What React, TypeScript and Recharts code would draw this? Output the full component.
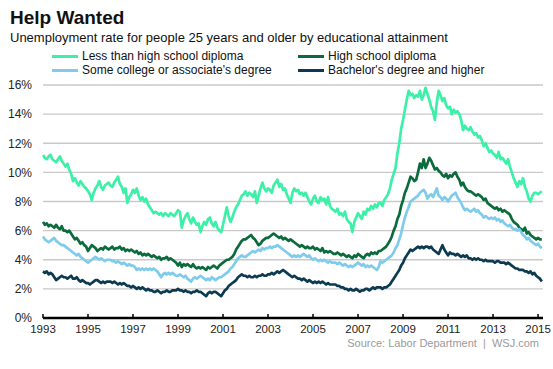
import { CartesianGrid, Line, LineChart, XAxis, YAxis } from "recharts";

// monthly unemployment rate (%), Jan 1993 – Mar 2015
const lessThanHs = [
  11.2, 11.0, 10.9, 11.1, 11.2, 10.9, 10.8, 10.7, 10.9, 11.1, 10.8, 10.6, // 1993
  10.4, 10.6, 10.2, 9.9, 9.4, 9.6, 9.3, 9.1, 9.4, 9.2, 9.0, 8.9, // 1994
  8.7, 8.5, 8.1, 8.6, 8.9, 9.1, 9.4, 9.0, 8.8, 9.1, 9.2, 9.3, // 1995
  9.1, 9.0, 9.3, 9.5, 9.7, 9.2, 9.0, 8.6, 8.9, 7.9, 8.3, 8.5, // 1996
  8.8, 8.6, 8.9, 8.4, 8.1, 8.3, 8.0, 8.2, 7.8, 7.6, 7.4, 7.2, // 1997
  7.3, 7.2, 7.1, 7.2, 7.0, 7.2, 7.1, 7.0, 7.2, 7.1, 7.0, 7.2, // 1998
  7.4, 7.3, 6.2, 6.7, 7.0, 7.2, 6.8, 6.5, 6.9, 6.6, 6.4, 6.5, // 1999
  5.9, 6.3, 6.6, 6.4, 6.8, 6.9, 6.5, 6.3, 6.6, 6.2, 6.0, 5.9, // 2000
  6.4, 7.0, 7.6, 7.0, 6.6, 6.9, 7.3, 7.6, 7.8, 8.1, 8.4, 8.5, // 2001
  8.7, 8.4, 8.6, 8.5, 8.3, 8.7, 7.9, 8.4, 8.9, 9.3, 8.9, 8.7, // 2002
  8.9, 8.8, 8.6, 9.1, 9.3, 9.5, 9.0, 9.2, 8.8, 8.9, 8.5, 8.2, // 2003
  7.9, 8.6, 8.9, 8.7, 8.8, 8.5, 8.6, 8.4, 8.6, 8.3, 8.0, 7.8, // 2004
  8.2, 8.4, 8.0, 7.9, 8.3, 8.1, 8.2, 7.8, 8.3, 7.7, 7.5, 7.4, // 2005
  7.3, 7.5, 7.1, 7.2, 7.0, 7.3, 6.8, 6.6, 6.5, 5.9, 6.6, 6.9, // 2006
  7.2, 7.0, 6.8, 7.3, 7.1, 7.5, 7.4, 7.7, 7.5, 7.8, 7.6, 7.9, // 2007
  7.9, 7.7, 8.1, 8.3, 8.5, 8.9, 9.5, 9.9, 10.3, 11.3, 12.0, 13.0, // 2008
  13.6, 14.3, 15.0, 15.6, 15.3, 15.4, 15.1, 15.3, 15.2, 15.6, 15.0, 15.3, // 2009
  15.8, 15.4, 15.0, 14.5, 14.2, 13.6, 14.8, 15.6, 15.3, 14.9, 15.1, 14.6, // 2010
  14.4, 14.5, 14.0, 14.3, 14.1, 14.2, 14.0, 13.6, 12.9, 13.2, 13.0, 12.9, // 2011
  13.1, 12.8, 12.6, 12.7, 12.4, 12.5, 12.2, 11.8, 12.0, 11.7, 11.4, 11.5, // 2012
  11.3, 11.2, 11.0, 11.4, 10.9, 11.0, 10.8, 10.6, 10.9, 10.4, 10.0, 9.6, // 2013
  9.3, 9.0, 9.4, 9.2, 9.6, 9.0, 8.7, 8.2, 8.0, 8.4, 8.6, 8.6, // 2014
  8.5, 8.6, 8.7, // 2015
];

const highSchool = [
  6.6, 6.4, 6.5, 6.3, 6.4, 6.3, 6.2, 6.4, 6.2, 6.1, 6.3, 6.0, // 1993
  6.0, 5.9, 6.0, 5.8, 5.6, 5.4, 5.5, 5.3, 5.1, 5.2, 5.0, 4.9, // 1994
  4.6, 4.8, 5.0, 4.9, 4.8, 4.6, 4.7, 4.8, 4.7, 4.9, 4.8, 4.7, // 1995
  4.8, 4.9, 4.7, 4.8, 4.8, 4.9, 4.7, 4.8, 4.6, 4.7, 4.6, 4.7, // 1996
  4.6, 4.5, 4.6, 4.4, 4.5, 4.3, 4.4, 4.3, 4.4, 4.3, 4.2, 4.3, // 1997
  4.2, 4.1, 4.2, 4.0, 4.1, 4.1, 4.2, 4.0, 4.1, 4.0, 3.9, 3.8, // 1998
  3.6, 3.8, 3.5, 3.7, 3.6, 3.7, 3.6, 3.5, 3.7, 3.5, 3.4, 3.5, // 1999
  3.4, 3.5, 3.4, 3.3, 3.5, 3.4, 3.5, 3.6, 3.5, 3.4, 3.6, 3.7, // 2000
  3.8, 3.9, 4.0, 4.0, 4.1, 4.2, 4.4, 4.7, 4.9, 5.1, 5.3, 5.4, // 2001
  5.4, 5.5, 5.6, 5.7, 5.5, 5.4, 5.2, 5.0, 5.1, 5.3, 5.4, 5.5, // 2002
  5.5, 5.6, 5.7, 5.8, 5.7, 5.6, 5.5, 5.6, 5.4, 5.5, 5.4, 5.3, // 2003
  5.4, 5.3, 5.2, 5.1, 5.0, 4.9, 5.0, 4.9, 4.8, 4.9, 4.8, 4.8, // 2004
  4.9, 4.7, 4.8, 4.7, 4.6, 4.8, 4.5, 4.6, 4.5, 4.6, 4.5, 4.4, // 2005
  4.4, 4.5, 4.4, 4.3, 4.4, 4.3, 4.2, 4.3, 4.2, 4.1, 4.3, 4.2, // 2006
  4.4, 4.3, 4.2, 4.1, 4.3, 4.4, 4.3, 4.5, 4.4, 4.5, 4.4, 4.6, // 2007
  4.6, 4.7, 4.8, 4.9, 5.1, 5.3, 5.6, 6.0, 6.3, 6.8, 7.1, 7.7, // 2008
  8.1, 8.6, 8.9, 9.3, 9.7, 9.6, 9.4, 9.5, 10.0, 10.6, 10.3, 10.9, // 2009
  10.3, 10.6, 11.0, 10.8, 10.5, 10.2, 10.3, 10.1, 10.0, 9.8, 9.7, 9.9, // 2010
  9.6, 9.8, 9.7, 9.9, 10.0, 9.7, 9.5, 9.1, 9.3, 9.0, 8.8, 8.7, // 2011
  8.7, 8.6, 8.5, 8.4, 8.5, 8.4, 8.3, 8.1, 8.2, 7.9, 7.8, 7.7, // 2012
  7.6, 7.5, 7.6, 7.4, 7.5, 7.3, 7.4, 7.3, 7.2, 7.1, 6.8, 6.6, // 2013
  6.5, 6.4, 6.2, 6.1, 6.0, 6.2, 5.8, 5.9, 5.7, 5.6, 5.5, 5.4, // 2014
  5.5, 5.4, 5.4, // 2015
];

const someCollege = [
  5.6, 5.4, 5.3, 5.2, 5.3, 5.4, 5.5, 5.3, 5.2, 5.1, 5.0, 5.0, // 1993
  4.9, 4.8, 4.7, 4.6, 4.5, 4.4, 4.3, 4.4, 4.2, 4.1, 4.0, 3.9, // 1994
  3.8, 3.9, 4.0, 4.1, 4.2, 4.1, 4.0, 4.1, 4.0, 3.9, 4.0, 4.0, // 1995
  4.0, 3.9, 3.9, 3.8, 3.9, 3.8, 3.7, 3.8, 3.7, 3.6, 3.7, 3.6, // 1996
  3.6, 3.5, 3.3, 3.4, 3.3, 3.4, 3.3, 3.4, 3.3, 3.4, 3.3, 3.4, // 1997
  3.3, 3.2, 3.0, 2.8, 3.0, 3.1, 3.0, 3.1, 3.0, 3.1, 3.0, 2.9, // 1998
  2.9, 3.0, 2.9, 2.8, 2.9, 2.7, 2.6, 2.5, 2.7, 2.8, 2.7, 2.8, // 1999
  2.9, 2.8, 2.7, 2.6, 2.7, 2.6, 2.8, 2.7, 2.6, 2.7, 2.8, 2.8, // 2000
  2.9, 3.0, 3.1, 3.2, 3.4, 3.5, 3.7, 3.9, 4.1, 4.2, 4.3, 4.2, // 2001
  4.2, 4.3, 4.4, 4.5, 4.6, 4.5, 4.6, 4.7, 4.6, 4.8, 4.7, 4.8, // 2002
  4.8, 4.9, 4.8, 4.9, 4.9, 5.0, 4.9, 4.8, 4.7, 4.6, 4.5, 4.4, // 2003
  4.3, 4.2, 4.3, 4.2, 4.3, 4.2, 4.3, 4.4, 4.3, 4.2, 4.3, 4.1, // 2004
  4.0, 4.1, 4.0, 3.9, 4.0, 3.9, 4.0, 3.9, 3.8, 3.9, 3.8, 3.8, // 2005
  3.8, 3.7, 3.8, 3.7, 3.6, 3.7, 3.6, 3.5, 3.6, 3.5, 3.6, 3.7, // 2006
  3.8, 3.7, 3.6, 3.7, 3.5, 3.6, 3.5, 3.6, 3.5, 3.4, 3.3, 3.5, // 2007
  3.9, 3.8, 3.9, 4.0, 4.1, 4.2, 4.3, 4.5, 4.8, 5.0, 5.4, 5.8, // 2008
  6.4, 6.9, 7.3, 7.6, 8.0, 8.1, 8.2, 8.3, 8.4, 8.6, 8.7, 8.8, // 2009
  8.6, 8.2, 8.4, 8.5, 8.3, 8.6, 8.9, 8.4, 8.3, 8.1, 8.3, 8.2, // 2010
  8.0, 8.2, 8.4, 8.5, 8.6, 8.3, 8.1, 7.9, 7.6, 7.4, 7.5, 7.4, // 2011
  7.3, 7.4, 7.5, 7.3, 7.4, 7.2, 7.1, 6.9, 7.0, 6.9, 6.8, 6.9, // 2012
  6.8, 6.9, 6.7, 6.8, 6.6, 6.7, 6.5, 6.4, 6.3, 6.4, 6.2, 6.1, // 2013
  6.1, 6.0, 6.1, 5.9, 5.7, 5.6, 5.4, 5.5, 5.3, 5.2, 5.1, 5.0, // 2014
  5.1, 4.9, 4.8, // 2015
];

const bachelors = [
  3.2, 3.1, 3.2, 3.0, 3.1, 3.0, 2.8, 2.6, 2.7, 2.8, 2.9, 2.8, // 1993
  2.8, 2.7, 2.8, 2.9, 2.7, 2.7, 2.8, 2.6, 2.5, 2.6, 2.5, 2.4, // 1994
  2.4, 2.3, 2.4, 2.5, 2.6, 2.6, 2.5, 2.4, 2.5, 2.4, 2.5, 2.5, // 1995
  2.5, 2.4, 2.5, 2.4, 2.3, 2.4, 2.3, 2.4, 2.3, 2.2, 2.2, 2.1, // 1996
  2.2, 2.1, 2.0, 2.1, 2.0, 2.1, 2.0, 1.9, 2.0, 1.9, 1.9, 1.8, // 1997
  1.8, 1.9, 1.8, 1.7, 1.8, 1.8, 1.9, 1.8, 1.8, 1.9, 1.9, 1.9, // 1998
  2.0, 1.9, 1.9, 1.8, 1.9, 1.8, 1.8, 1.7, 1.8, 1.8, 1.9, 1.8, // 1999
  1.8, 1.7, 1.6, 1.5, 1.7, 1.8, 1.7, 1.8, 1.8, 1.7, 1.6, 1.5, // 2000
  1.7, 1.9, 2.0, 2.2, 2.3, 2.4, 2.5, 2.6, 2.8, 2.9, 3.0, 2.9, // 2001
  2.9, 2.8, 2.9, 2.8, 2.8, 2.9, 2.8, 2.9, 2.9, 3.0, 2.9, 2.9, // 2002
  3.0, 3.0, 3.1, 3.0, 3.1, 3.2, 3.1, 3.2, 3.3, 3.2, 3.1, 3.0, // 2003
  2.9, 2.8, 2.9, 2.8, 2.7, 2.7, 2.6, 2.7, 2.6, 2.5, 2.6, 2.5, // 2004
  2.4, 2.5, 2.4, 2.5, 2.4, 2.5, 2.4, 2.3, 2.4, 2.3, 2.3, 2.3, // 2005
  2.3, 2.2, 2.2, 2.1, 2.1, 2.0, 2.0, 1.9, 2.0, 1.9, 1.9, 2.0, // 2006
  1.9, 1.8, 1.9, 1.9, 2.0, 2.0, 1.9, 2.0, 2.1, 2.0, 2.1, 2.1, // 2007
  2.1, 2.0, 2.1, 2.1, 2.2, 2.3, 2.5, 2.7, 2.9, 3.1, 3.3, 3.6, // 2008
  3.8, 4.1, 4.3, 4.5, 4.7, 4.6, 4.7, 4.8, 4.9, 4.8, 4.9, 4.8, // 2009
  4.9, 4.9, 4.8, 4.9, 4.7, 4.6, 4.5, 4.4, 4.7, 5.0, 4.7, 4.5, // 2010
  4.3, 4.5, 4.4, 4.4, 4.3, 4.4, 4.3, 4.2, 4.3, 4.2, 4.3, 4.1, // 2011
  4.1, 4.0, 4.1, 4.0, 4.1, 4.0, 4.0, 3.9, 4.0, 3.9, 3.9, 3.9, // 2012
  3.9, 3.8, 3.9, 3.9, 3.8, 3.8, 3.8, 3.7, 3.8, 3.7, 3.6, 3.5, // 2013
  3.4, 3.4, 3.3, 3.3, 3.3, 3.2, 3.2, 3.1, 3.2, 3.0, 3.1, 2.9, // 2014
  2.8, 2.7, 2.5, // 2015
];

const startYear = 1993;
const yearTicks = [1993, 1995, 1997, 1999, 2001, 2003, 2005, 2007, 2009, 2011, 2013, 2015];
const rateTicks = [0, 2, 4, 6, 8, 10, 12, 14, 16];

const series = [
  { key: "lths", name: "Less than high school diploma", color: "#3cf0a8" },
  { key: "hs", name: "High school diploma", color: "#0b6b3c" },
  { key: "some", name: "Some college or associate's degree", color: "#7fcbec" },
  { key: "ba", name: "Bachelor's degree and higher", color: "#0c3a4f" },
];

const data = lessThanHs.map((v, i) => ({
  t: startYear + i / 12,
  lths: v,
  hs: highSchool[i],
  some: someCollege[i],
  ba: bachelors[i],
}));

const font = "Arial, 'Liberation Sans', Helvetica, sans-serif";

function YearTick(props: any) {
  const { x, y, payload } = props;
  return (
    <g>
      <line x1={x} x2={x} y1={y - 4} y2={y} stroke="#000" strokeWidth={1.5} />
      <text x={x} y={y + 15} textAnchor="middle" fontSize={11.5} fill="#222" fontFamily={font}>
        {payload.value}
      </text>
    </g>
  );
}

function LegendItem({ x, y, color, label }: { x: number; y: number; color: string; label: string }) {
  return (
    <div style={{ position: "absolute", left: x, top: y - 8, height: 16, display: "flex", alignItems: "center" }}>
      <div style={{ width: 26, height: 3, background: color, marginRight: 4 }} />
      <span style={{ fontSize: 12, color: "#111", whiteSpace: "nowrap" }}>{label}</span>
    </div>
  );
}

export default function App() {
  return (
    <div style={{ position: "absolute", left: 0, top: 0, width: 553, height: 369, background: "#fff", fontFamily: font }}>
      <div style={{ position: "absolute", left: 10, top: 7, fontSize: 19, fontWeight: "bold", color: "#111" }}>
        Help Wanted
      </div>
      <div style={{ position: "absolute", left: 10, top: 30, fontSize: 13, color: "#111", whiteSpace: "nowrap" }}>
        Unemployment rate for people 25 years and older by educational attainment
      </div>
      <LegendItem x={52} y={56} color={series[0].color} label={series[0].name} />
      <LegendItem x={52} y={70} color={series[2].color} label={series[2].name} />
      <LegendItem x={298} y={56} color={series[1].color} label={series[1].name} />
      <LegendItem x={298} y={70} color={series[3].color} label={series[3].name} />

      <div style={{ position: "absolute", left: 0, top: 0 }}>
        <LineChart width={553} height={369} data={data} margin={{ top: 85, right: 10, bottom: 21, left: 0 }}>
          <CartesianGrid vertical={false} stroke="#c9c9c9" strokeWidth={1.3} />
          <XAxis
            dataKey="t"
            type="number"
            domain={[1993, 2015.22]}
            ticks={yearTicks}
            tickLine={false}
            tickSize={0}
            tickMargin={0}
            height={30}
            axisLine={{ stroke: "#000", strokeWidth: 2.5 }}
            tick={<YearTick />}
            interval={0}
          />
          <YAxis
            domain={[0, 16]}
            ticks={rateTicks}
            width={43}
            axisLine={false}
            tickLine={false}
            tickSize={0}
            tickMargin={11}
            tickFormatter={(v) => `${v}%`}
            tick={{ fontSize: 12, fill: "#222", fontFamily: font }}
          />
          {series.map((s) => (
            <Line
              key={s.key}
              dataKey={s.key}
              name={s.name}
              type="linear"
              stroke={s.color}
              strokeWidth={2.7}
              strokeLinejoin="round"
              dot={false}
              isAnimationActive={false}
            />
          ))}
        </LineChart>
      </div>

      <div style={{ position: "absolute", right: 14, top: 337, fontSize: 11, color: "#9a9a9a", whiteSpace: "nowrap" }}>
        Source: Labor Department&nbsp; |&nbsp; WSJ.com
      </div>
    </div>
  );
}
